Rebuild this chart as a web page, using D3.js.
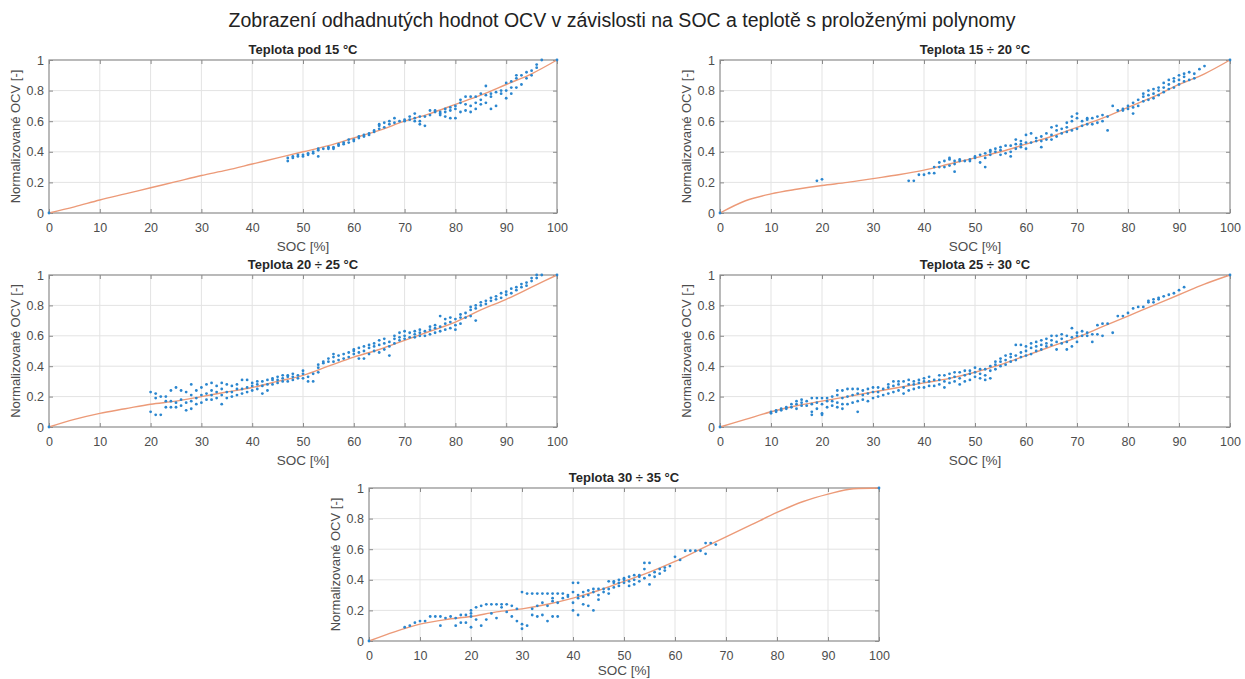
<!DOCTYPE html>
<html>
<head>
<meta charset="utf-8">
<script src="https://cdn.jsdelivr.net/npm/d3@7"></script>
<style>
  html, body { margin: 0; padding: 0; background: #fff; }
  svg { display: block; font-family: "Liberation Sans", Arial, sans-serif; }
</style>
</head>
<body>
<svg id="chart" width="1245" height="679"></svg>
<script>
// ---------------- DATA ----------------
const mainTitle = "Zobrazení odhadnutých hodnot OCV v závislosti na SOC a teplotě s proloženými polynomy";
const panelTitles = ["Teplota pod 15 °C", "Teplota 15 ÷ 20 °C", "Teplota 20 ÷ 25 °C", "Teplota 25 ÷ 30 °C", "Teplota 30 ÷ 35 °C"];
const xLabel = "SOC [%]";
const yLabel = "Normalizované OCV [-]";
const xTicks = [0, 10, 20, 30, 40, 50, 60, 70, 80, 90, 100];
const yTicks = [0, 0.2, 0.4, 0.6, 0.8, 1];

// polynomial fit curves, read at SOC = 0,5,...,100
const fitSoc = [0, 5, 10, 15, 20, 25, 30, 35, 40, 45, 50, 55, 60, 65, 70, 75, 80, 85, 90, 95, 100];
const fit1 = [0, 0.04, 0.085, 0.125, 0.165, 0.205, 0.245, 0.28, 0.32, 0.36, 0.40, 0.44, 0.49, 0.54, 0.60, 0.65, 0.71, 0.77, 0.84, 0.91, 1.0];
const fit2 = [0, 0.08, 0.125, 0.155, 0.18, 0.20, 0.225, 0.25, 0.28, 0.32, 0.36, 0.40, 0.45, 0.50, 0.56, 0.62, 0.69, 0.76, 0.84, 0.91, 1.0];
const fit3 = [0, 0.05, 0.09, 0.12, 0.15, 0.17, 0.20, 0.23, 0.26, 0.30, 0.34, 0.40, 0.46, 0.51, 0.57, 0.63, 0.69, 0.77, 0.84, 0.92, 1.0];
const fit4 = [0, 0.05, 0.10, 0.14, 0.17, 0.20, 0.23, 0.26, 0.29, 0.32, 0.36, 0.41, 0.47, 0.53, 0.59, 0.66, 0.73, 0.80, 0.87, 0.94, 1.0];
const fit5 = [0, 0.06, 0.11, 0.14, 0.16, 0.19, 0.21, 0.24, 0.28, 0.33, 0.39, 0.45, 0.52, 0.60, 0.68, 0.76, 0.84, 0.91, 0.96, 0.995, 1.0];

// measured points: [SOC, [OCV values at that SOC]]
const pts1 = [[0,[0]],[47,[0.34,0.36]],[48,[0.36,0.37]],[49,[0.37,0.38]],[50,[0.37,0.38]],[51,[0.38,0.39]],[52,[0.39,0.40]],
  [53,[0.37,0.41,0.42]],[54,[0.42]],[55,[0.42,0.43]],[56,[0.42,0.43]],[57,[0.44,0.45]],[58,[0.45,0.46]],[59,[0.46,0.48]],
  [60,[0.47,0.48]],[61,[0.49,0.50]],[62,[0.50,0.51]],[63,[0.51,0.52]],[64,[0.53,0.54]],[65,[0.55,0.57,0.58]],[66,[0.56,0.59]],
  [67,[0.58,0.60]],[68,[0.59,0.62]],[69,[0.60]],[70,[0.60,0.61]],[71,[0.61,0.63]],[72,[0.60,0.62,0.65]],[73,[0.58,0.60,0.63]],
  [74,[0.57,0.63]],[75,[0.64,0.67]],[76,[0.66,0.67]],[77,[0.64,0.65,0.66]],[78,[0.63,0.66,0.68]],[79,[0.62,0.67,0.69]],
  [80,[0.62,0.68,0.70]],[81,[0.66,0.72,0.74]],[82,[0.67,0.71,0.76]],[83,[0.66,0.70,0.76]],[84,[0.68,0.72,0.76]],
  [85,[0.71,0.74,0.78]],[86,[0.72,0.77,0.83]],[87,[0.68,0.76,0.78]],[88,[0.70,0.79]],[89,[0.78,0.80]],[90,[0.75,0.80,0.85]],
  [91,[0.78,0.82,0.86]],[92,[0.82,0.88,0.90]],[93,[0.84,0.90]],[94,[0.88,0.92]],[95,[0.90,0.93]],[96,[0.95,0.97]],[97,[1.0]],[100,[1.0]]];
const pts2 = [[0,[0]],[19,[0.21]],[20,[0.22]],[37,[0.21]],[38,[0.21]],[39,[0.25]],[40,[0.25]],[41,[0.26]],[42,[0.26,0.30]],
  [43,[0.30,0.33]],[44,[0.30,0.34]],[45,[0.31,0.35,0.36]],[46,[0.27,0.32,0.34]],[47,[0.34,0.35]],[48,[0.34]],[49,[0.34,0.35]],
  [50,[0.36,0.37]],[51,[0.33,0.38]],[52,[0.30,0.36,0.39]],[53,[0.38,0.40,0.41]],[54,[0.40,0.42]],[55,[0.38,0.41,0.43]],
  [56,[0.39,0.44]],[57,[0.37,0.40,0.44]],[58,[0.42,0.45,0.48]],[59,[0.43,0.45,0.47]],[60,[0.42,0.46,0.51]],[61,[0.46,0.52]],
  [62,[0.47,0.49]],[63,[0.43,0.47,0.50]],[64,[0.48,0.52]],[65,[0.48,0.51,0.56]],[66,[0.50,0.54,0.57]],[67,[0.52,0.55]],
  [68,[0.53,0.56,0.59]],[69,[0.54,0.60,0.63]],[70,[0.55,0.62,0.65]],[71,[0.57,0.60]],[72,[0.58,0.61,0.62]],[73,[0.58,0.62]],
  [74,[0.59,0.63]],[75,[0.60,0.64]],[76,[0.54,0.63]],[77,[0.70]],[78,[0.67]],[79,[0.67,0.68]],[80,[0.68,0.70]],
  [81,[0.65,0.69,0.72]],[82,[0.70,0.74]],[83,[0.73,0.76,0.78]],[84,[0.74,0.77,0.80]],[85,[0.75,0.78,0.81]],[86,[0.77,0.80,0.82]],
  [87,[0.79,0.82,0.85]],[88,[0.81,0.84,0.87]],[89,[0.82,0.86,0.88]],[90,[0.84,0.87,0.90]],[91,[0.86,0.89,0.91]],[92,[0.87,0.92]],
  [93,[0.88,0.91]],[94,[0.94]],[95,[0.96]],[100,[1.0]]];
const pts3 = [[0,[0]],[20,[0.10,0.23]],[21,[0.08,0.19,0.22]],[22,[0.08,0.20]],[23,[0.13,0.17,0.20]],[24,[0.13,0.17,0.24]],
  [25,[0.13,0.16,0.26]],[26,[0.14,0.18,0.24]],[27,[0.11,0.16,0.23]],[28,[0.12,0.17,0.21,0.28]],[29,[0.15,0.19,0.24]],
  [30,[0.16,0.21,0.26]],[31,[0.18,0.22,0.28]],[32,[0.18,0.21,0.24,0.29]],[33,[0.19,0.23,0.27]],[34,[0.15,0.21,0.25,0.29]],
  [35,[0.19,0.23,0.28]],[36,[0.20,0.23,0.27]],[37,[0.21,0.25,0.28]],[38,[0.22,0.25,0.31]],[39,[0.23,0.26,0.31]],
  [40,[0.24,0.27,0.29]],[41,[0.25,0.28,0.30]],[42,[0.22,0.27,0.30]],[43,[0.24,0.28,0.31]],[44,[0.28,0.31,0.32]],
  [45,[0.29,0.31,0.33]],[46,[0.30,0.32,0.34]],[47,[0.30,0.33,0.34]],[48,[0.31,0.33,0.35]],[49,[0.32,0.34]],[50,[0.32,0.35,0.37]],
  [51,[0.30,0.33]],[52,[0.30,0.35]],[53,[0.36,0.39,0.41]],[54,[0.42,0.43]],[55,[0.43,0.45]],[56,[0.43,0.46,0.48]],[57,[0.44,0.47]],
  [58,[0.45,0.48]],[59,[0.46,0.49]],[60,[0.48,0.50,0.51]],[61,[0.45,0.49,0.52]],[62,[0.45,0.50,0.53]],[63,[0.48,0.52,0.54]],
  [64,[0.50,0.53,0.55]],[65,[0.49,0.54,0.57]],[66,[0.51,0.55,0.58]],[67,[0.47,0.53,0.56]],[68,[0.55,0.58,0.60]],
  [69,[0.57,0.59,0.62]],[70,[0.58,0.60,0.63]],[71,[0.59,0.62]],[72,[0.59,0.61,0.63]],[73,[0.60,0.62,0.64]],[74,[0.60,0.63]],
  [75,[0.61,0.64,0.66]],[76,[0.62,0.65,0.67]],[77,[0.63,0.66,0.73]],[78,[0.64,0.68,0.71]],[79,[0.65,0.69,0.72]],
  [80,[0.64,0.67,0.71]],[81,[0.68,0.72,0.74]],[82,[0.72,0.75]],[83,[0.73,0.77,0.79]],[84,[0.70,0.78,0.80]],[85,[0.80,0.82]],
  [86,[0.81,0.83]],[87,[0.83,0.85]],[88,[0.84,0.86]],[89,[0.85,0.88]],[90,[0.87,0.89]],[91,[0.88,0.91]],[92,[0.90,0.92]],
  [93,[0.92,0.94]],[94,[0.93,0.95]],[95,[0.96,0.98]],[96,[0.98,1.0]],[97,[1.0]],[100,[1.0]]];
const pts4 = [[0,[0]],[10,[0.09,0.10]],[11,[0.10,0.11]],[12,[0.11,0.12]],[13,[0.12,0.13]],[14,[0.13,0.15]],[15,[0.12,0.15,0.17]],
  [16,[0.14,0.16,0.18]],[17,[0.14,0.17]],[18,[0.08,0.10,0.15,0.19]],[19,[0.12,0.16,0.19]],[20,[0.08,0.09,0.15,0.19]],
  [21,[0.13,0.17,0.19]],[22,[0.14,0.17,0.20]],[23,[0.13,0.16,0.21,0.24]],[24,[0.12,0.15,0.19,0.24]],[25,[0.15,0.20,0.25]],
  [26,[0.16,0.21,0.25]],[27,[0.10,0.17,0.22,0.25]],[28,[0.18,0.21,0.24]],[29,[0.17,0.22,0.25]],[30,[0.19,0.23,0.26]],
  [31,[0.20,0.23,0.26]],[32,[0.21,0.25]],[33,[0.22,0.26,0.28]],[34,[0.23,0.27,0.30]],[35,[0.24,0.28,0.30]],[36,[0.22,0.26,0.30]],
  [37,[0.24,0.28,0.31]],[38,[0.25,0.28,0.30]],[39,[0.26,0.29,0.31]],[40,[0.26,0.30,0.32]],[41,[0.27,0.30,0.33]],[42,[0.27,0.31]],
  [43,[0.28,0.31,0.34]],[44,[0.26,0.30,0.34]],[45,[0.29,0.32,0.35]],[46,[0.30,0.33,0.36]],[47,[0.28,0.32,0.36]],
  [48,[0.30,0.34,0.37]],[49,[0.31,0.35,0.37]],[50,[0.33,0.36,0.39]],[51,[0.32,0.35,0.38]],[52,[0.31,0.34,0.38]],
  [53,[0.32,0.37,0.40]],[54,[0.38,0.41,0.43]],[55,[0.40,0.43,0.45]],[56,[0.41,0.44,0.47]],[57,[0.43,0.46,0.48]],
  [58,[0.44,0.47,0.54]],[59,[0.46,0.49,0.54]],[60,[0.47,0.50,0.53]],[61,[0.48,0.52,0.55]],[62,[0.50,0.53,0.56]],
  [63,[0.51,0.54,0.57]],[64,[0.53,0.55,0.58]],[65,[0.54,0.57,0.60]],[66,[0.51,0.56,0.60]],[67,[0.55,0.58,0.61]],
  [68,[0.51,0.56,0.60]],[69,[0.53,0.59,0.65]],[70,[0.56,0.60,0.62]],[71,[0.60,0.63]],[72,[0.60,0.62]],[73,[0.56,0.61]],
  [74,[0.61,0.67]],[75,[0.60,0.68]],[76,[0.68]],[77,[0.62]],[78,[0.73]],[79,[0.73]],[80,[0.75]],[81,[0.78]],[82,[0.79]],
  [83,[0.79]],[84,[0.82,0.83]],[85,[0.82,0.84]],[86,[0.84,0.85]],[87,[0.86]],[88,[0.87]],[89,[0.88]],[90,[0.90]],[91,[0.92]],[100,[1.0]]];
const pts5 = [[0,[0]],[7,[0.09]],[8,[0.10]],[9,[0.12]],[10,[0.13]],[11,[0.13]],[12,[0.16]],[13,[0.16]],[14,[0.10,0.16]],[15,[0.15]],
  [16,[0.16]],[17,[0.10,0.15]],[18,[0.12,0.17]],[19,[0.12,0.17]],[20,[0.09,0.16,0.18,0.20]],[21,[0.14,0.22]],[22,[0.10,0.23]],
  [23,[0.14,0.24]],[24,[0.18,0.24]],[25,[0.15,0.24]],[26,[0.22,0.24]],[27,[0.19,0.24]],[28,[0.16,0.23]],[29,[0.13,0.21]],
  [30,[0.08,0.11,0.32]],[31,[0.10,0.31]],[32,[0.17,0.21,0.31]],[33,[0.16,0.23,0.31]],[34,[0.17,0.25,0.31]],[35,[0.13,0.23,0.31]],
  [36,[0.16,0.26,0.28,0.31]],[37,[0.16,0.25,0.31]],[38,[0.28,0.31]],[39,[0.29,0.30]],[40,[0.20,0.25,0.32,0.38]],
  [41,[0.17,0.28,0.30,0.38]],[42,[0.24,0.29,0.32]],[43,[0.23,0.30,0.33]],[44,[0.20,0.32,0.34]],[45,[0.27,0.30,0.34]],
  [46,[0.32,0.34]],[47,[0.31,0.34,0.39]],[48,[0.35,0.38,0.39]],[49,[0.36,0.38,0.40]],[50,[0.38,0.40,0.41]],[51,[0.36,0.39,0.42]],
  [52,[0.37,0.40,0.43]],[53,[0.39,0.42,0.43]],[54,[0.41,0.47,0.51]],[55,[0.37,0.43,0.51]],[56,[0.42,0.45]],[57,[0.44,0.47]],
  [58,[0.46,0.48]],[59,[0.49]],[60,[0.55]],[61,[0.53]],[62,[0.59]],[63,[0.59]],[64,[0.59]],[65,[0.59]],[66,[0.57,0.64]],
  [67,[0.64]],[68,[0.63]],[100,[1.0]]];

// ---------------- LAYOUT ----------------
const panels = [
  { title: panelTitles[0], fit: fit1, pts: pts1, x0: 49,  x1: 557,  y0: 60,  y1: 213 },
  { title: panelTitles[1], fit: fit2, pts: pts2, x0: 720, x1: 1230, y0: 60,  y1: 213 },
  { title: panelTitles[2], fit: fit3, pts: pts3, x0: 49,  x1: 557,  y0: 275, y1: 427 },
  { title: panelTitles[3], fit: fit4, pts: pts4, x0: 720, x1: 1230, y0: 275, y1: 427 },
  { title: panelTitles[4], fit: fit5, pts: pts5, x0: 369, x1: 879,  y0: 488, y1: 641 }
];

const svg = d3.select("#chart");
const textCol = "#4d4d4d";

svg.append("text")
  .attr("x", 622).attr("y", 27)
  .attr("text-anchor", "middle")
  .attr("font-size", 19.5)
  .attr("fill", "#222")
  .text(mainTitle);

panels.forEach(p => {
  const x = d3.scaleLinear().domain([0, 100]).range([p.x0, p.x1]);
  const y = d3.scaleLinear().domain([0, 1]).range([p.y1, p.y0]);
  const g = svg.append("g");

  // grid
  g.append("g").selectAll("line").data(xTicks.slice(1, -1)).join("line")
    .attr("x1", d => x(d)).attr("x2", d => x(d)).attr("y1", p.y0).attr("y2", p.y1)
    .attr("stroke", "#e3e3e3").attr("stroke-width", 1);
  g.append("g").selectAll("line").data(yTicks.slice(1, -1)).join("line")
    .attr("y1", d => y(d)).attr("y2", d => y(d)).attr("x1", p.x0).attr("x2", p.x1)
    .attr("stroke", "#e3e3e3").attr("stroke-width", 1);

  // axes (ticks inward)
  const xAxis = d3.axisBottom(x).tickValues(xTicks).tickSize(-4).tickPadding(10).tickFormat(d3.format("d"));
  const yAxis = d3.axisLeft(y).tickValues(yTicks).tickSize(-4).tickPadding(5).tickFormat(d => d === 0 || d === 1 ? d3.format("d")(d) : d3.format(".1f")(d));
  const xa = g.append("g").attr("transform", `translate(0,${p.y1})`).call(xAxis);
  const ya = g.append("g").attr("transform", `translate(${p.x0},0)`).call(yAxis);
  const xt = g.append("g").attr("transform", `translate(0,${p.y0})`).call(d3.axisTop(x).tickValues(xTicks).tickSize(-4).tickFormat(""));
  const yr = g.append("g").attr("transform", `translate(${p.x1},0)`).call(d3.axisRight(y).tickValues(yTicks).tickSize(-4).tickFormat(""));
  [xa, ya, xt, yr].forEach(a => {
    a.select(".domain").remove();
    a.selectAll(".tick line").attr("stroke", "#8c8c8c");
    a.selectAll(".tick text").attr("fill", textCol).attr("font-size", 12.5).attr("font-family", "Liberation Sans, Arial, sans-serif");
  });

  // box
  g.append("rect").attr("x", p.x0).attr("y", p.y0).attr("width", p.x1 - p.x0).attr("height", p.y1 - p.y0)
    .attr("fill", "none").attr("stroke", "#8c8c8c").attr("stroke-width", 1.2);

  // fit curve
  const line = d3.line().x((d, i) => x(fitSoc[i])).y(d => y(d)).curve(d3.curveMonotoneX);
  g.append("path").attr("d", line(p.fit)).attr("fill", "none")
    .attr("stroke", "#ec9a78").attr("stroke-width", 1.4);

  // points
  const flat = [];
  p.pts.forEach(([s, vals]) => vals.forEach(v => flat.push([s, v])));
  g.append("g").selectAll("circle").data(flat).join("circle")
    .attr("cx", d => x(d[0])).attr("cy", d => y(d[1])).attr("r", 1.4)
    .attr("fill", "#2a86cf");

  // labels
  g.append("text").attr("x", (p.x0 + p.x1) / 2).attr("y", p.y0 - 6)
    .attr("text-anchor", "middle").attr("font-size", 13).attr("fill", "#262626")
    .attr("font-weight", "bold").text(p.title);
  g.append("text").attr("x", (p.x0 + p.x1) / 2).attr("y", Math.min(p.y1 + 38, 675))
    .attr("text-anchor", "middle").attr("font-size", 13.5).attr("fill", textCol).text(xLabel);
  g.append("text").attr("transform", `translate(${p.x0 - 29},${(p.y0 + p.y1) / 2}) rotate(-90)`)
    .attr("text-anchor", "middle").attr("font-size", 13).attr("fill", textCol).text(yLabel);
});
</script>
</body>
</html>
